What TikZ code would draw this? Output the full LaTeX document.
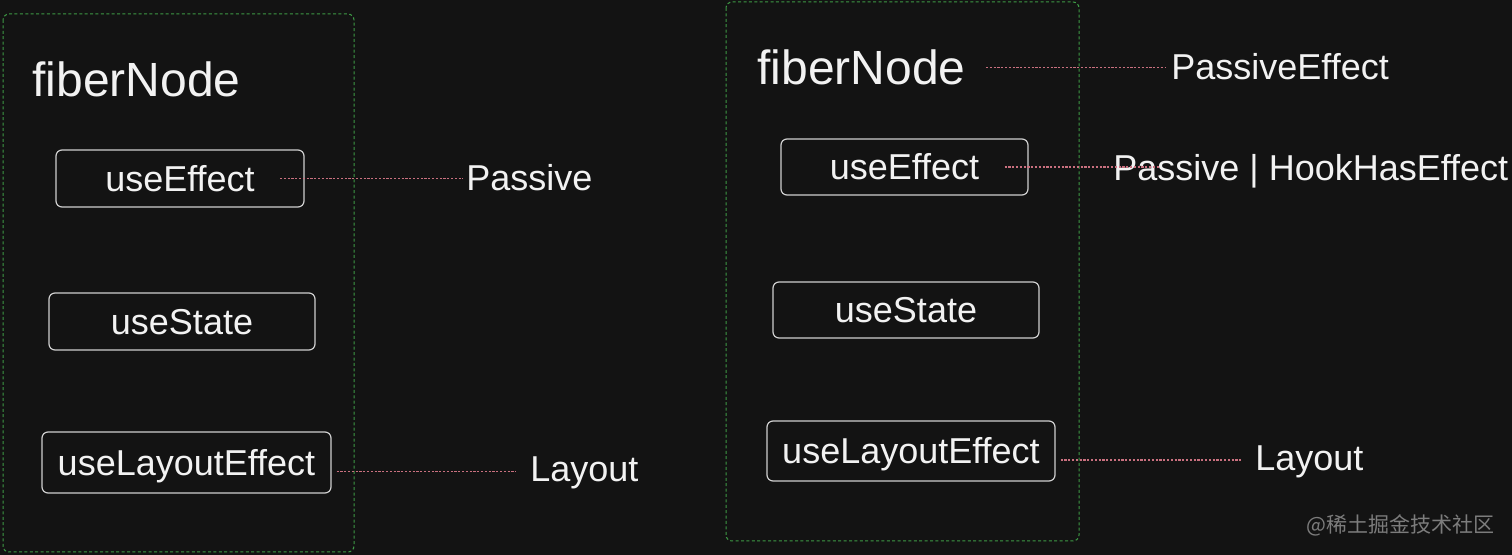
\documentclass[tikz,border=0pt]{standalone}
\usepackage{fontspec}
\setmainfont{Liberation Sans}
\newfontfamily\cjk{Noto Sans CJK SC}
\definecolor{bgc}{HTML}{131313}
\definecolor{txt}{HTML}{F2F2F2}
\definecolor{boxc}{HTML}{CFCFCF}
\definecolor{grn}{HTML}{3E9A45}
\definecolor{pnk}{HTML}{C9707F}
\definecolor{wmc}{HTML}{7C7C7C}
\begin{document}
\begin{tikzpicture}[x=0.5pt,y=-0.5pt,
  panel/.style={draw=grn, line width=0.5pt, dash pattern=on 1.5pt off 1.2pt, rounded corners=3pt},
  hook/.style={draw=boxc, line width=0.6pt, rounded corners=3pt, text=txt, inner sep=0pt,
    font=\fontsize{18pt}{20pt}\selectfont, text height=13pt, text depth=0pt},
  title/.style={text=txt, inner sep=0pt, font=\fontsize{24pt}{28pt}\selectfont},
  lbl/.style={text=txt, inner sep=0pt, font=\fontsize{18pt}{20pt}\selectfont},
  conn/.style={draw=pnk, line width=0.6pt, dash pattern=on 1.1pt off 0.8pt},
  wm/.style={text=wmc, inner sep=0pt, font=\cjk\fontsize{10.5pt}{12pt}\selectfont}]
\fill[bgc] (0,0) rectangle (1512,555);
\useasboundingbox (0,0) rectangle (1512,555);

% panels
\draw[panel] (3,14) rectangle (354,552);
\draw[panel] (726,2) rectangle (1079,541);

% left panel
\node[title, anchor=base west] (fnL) at (32,97) {fiberNode};
\node[hook, minimum width=124pt, minimum height=28.5pt] (ueL) at (180,178.5) {useEffect};
\node[hook, minimum width=133pt, minimum height=28.5pt] (usL) at (182,321.5) {useState};
\node[hook, minimum width=144.5pt, minimum height=30.5pt] (ulL) at (186.5,462.5) {useLayoutEffect};
\node[lbl, anchor=base west] (pasL) at (466,191) {Passive};
\node[lbl, anchor=base west] (layL) at (530,482) {Layout};

% right panel
\node[title, anchor=base west] (fnR) at (757,85) {fiberNode};
\node[hook, minimum width=123.5pt, minimum height=28pt] (ueR) at (904.5,167) {useEffect};
\node[hook, minimum width=133pt, minimum height=28pt] (usR) at (906,310) {useState};
\node[hook, minimum width=144pt, minimum height=30pt] (ulR) at (911,451) {useLayoutEffect};
\node[lbl, anchor=base west] (peR) at (1171,80) {PassiveEffect};
\node[lbl, anchor=base west] (pheR) at (1113,181) {Passive | HookHasEffect};
\node[lbl, anchor=base west] (layR) at (1255,471) {Layout};

% connectors
\coordinate (cL1) at ([xshift=50pt]ueL.center);
\draw[conn] (cL1) -- ([xshift=-1.5pt]pasL.west |- cL1);
\coordinate (cL2) at ([xshift=2.5pt,yshift=-4.5pt]ulL.east);
\draw[conn] (cL2) -- ([xshift=-7pt]layL.west |- cL2);
\coordinate (cR1) at ([xshift=10pt]fnR.east);
\draw[conn] (cR1) -- ([xshift=-3pt]peR.west |- cR1);
\coordinate (cR2) at ([xshift=50pt]ueR.center);
\draw[conn] (cR2) -- ([xshift=23.5pt]pheR.west |- cR2);
\coordinate (cR3) at ([xshift=2.5pt,yshift=-4.5pt]ulR.east);
\draw[conn] (cR3) -- ([xshift=-6.5pt]layR.west |- cR3);

% watermark
\node[wm, anchor=base west] (wm) at (1306,533) {@稀土掘金技术社区};
\end{tikzpicture}
\end{document}
